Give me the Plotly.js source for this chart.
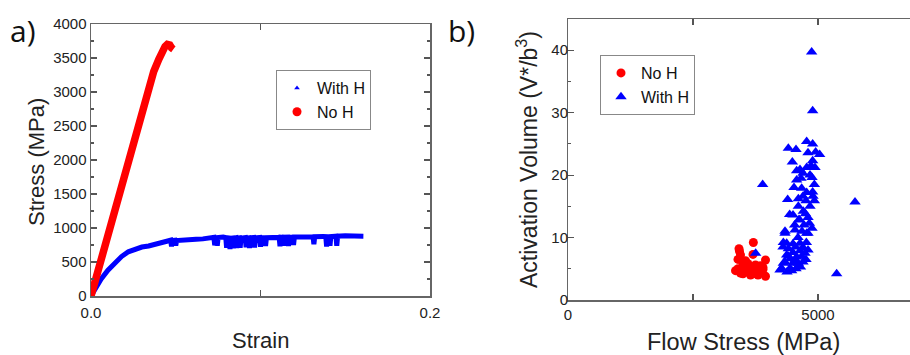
<!DOCTYPE html>
<html><head><meta charset="utf-8">
<script src="https://cdn.plot.ly/plotly-3.0.1.min.js"></script>
<style>html,body{margin:0;padding:0;background:#fff}#chart{width:910px;height:355px}</style>
</head><body><div id="chart"></div>
<script>
// ---- Panel a) stress-strain ----
const noHStrain   = [0, 0.004, 0.008, 0.012, 0.016, 0.020, 0.024, 0.028, 0.032, 0.0358, 0.037, 0.040, 0.042, 0.0437, 0.045, 0.0465, 0.0475, 0.0486];
const noHStress   = [0, 352, 704, 1056, 1408, 1760, 2110, 2460, 2810, 3225, 3300, 3480, 3600, 3670, 3700, 3690, 3650, 3630];
const withHStrain = [0, 0.003, 0.006, 0.010, 0.014, 0.018, 0.022, 0.026, 0.030, 0.034, 0.038, 0.042, 0.046, 0.0470, 0.0475, 0.0480, 0.0495, 0.0500, 0.0505, 0.054, 0.058, 0.062, 0.066, 0.070, 0.0725, 0.0730, 0.0735, 0.0740, 0.0745, 0.0750, 0.078, 0.0795, 0.0800, 0.0805, 0.0815, 0.0820, 0.0825, 0.0835, 0.0840, 0.0845, 0.0855, 0.0860, 0.0865, 0.0875, 0.0880, 0.0885, 0.0910, 0.0915, 0.0920, 0.0930, 0.0935, 0.0940, 0.0960, 0.0965, 0.0970, 0.0995, 0.1000, 0.1005, 0.1025, 0.1030, 0.1035, 0.108, 0.1110, 0.1115, 0.1120, 0.1130, 0.1135, 0.1140, 0.1160, 0.1165, 0.1170, 0.1190, 0.1195, 0.1200, 0.128, 0.1310, 0.1315, 0.1320, 0.137, 0.1385, 0.1390, 0.1395, 0.1405, 0.1410, 0.1415, 0.1445, 0.1450, 0.1455, 0.150, 0.155, 0.158, 0.1607];
const withHStress = [0, 130, 250, 380, 490, 580, 650, 695, 720, 735, 760, 790, 815, 820, 730, 815, 820, 740, 815, 825, 820, 835, 840, 855, 862, 745, 858, 865, 740, 860, 868, 860, 710, 855, 852, 690, 850, 852, 700, 850, 855, 705, 852, 856, 710, 850, 858, 715, 852, 856, 705, 855, 860, 712, 855, 860, 725, 858, 858, 735, 856, 866, 862, 730, 864, 862, 740, 864, 866, 735, 866, 868, 750, 868, 872, 872, 760, 872, 876, 874, 728, 872, 872, 740, 874, 880, 738, 880, 885, 886, 890, 880];
const aXTickVals = [0, 0.1, 0.2];
const aXTickText = ['0.0', '', '0.2'];

// ---- Panel b) activation volume ----
const noHFlow = [3707, 3420, 3430, 3450, 3700, 3400, 3500, 3350, 3400, 3450, 3500, 3550, 3600, 3650, 3700, 3750, 3800, 3850, 3900, 3950, 3950, 3900, 3600, 3550, 3750, 3650, 3500, 3800, 3850];
const noHVol  = [9.2, 8.2, 7.8, 7.2, 7.3, 6.5, 6.0, 4.7, 5.0, 4.3, 5.5, 4.8, 4.5, 5.2, 4.2, 4.6, 5.0, 4.4, 5.2, 6.4, 3.8, 4.9, 5.8, 6.3, 5.6, 4.0, 4.2, 4.0, 5.5];
const withHFlow = [4873, 4893, 4773, 4893, 4407, 4560, 4800, 4953, 5033, 4487, 4893, 4860, 4640, 4773, 4940, 4573, 4840, 4700, 3893, 4573, 4927, 4673, 4773, 4893, 4393, 4607, 4760, 4927, 5740, 4607, 4840, 4707, 4433, 4620, 4800, 4533, 4720, 4500, 4633, 4827, 4340, 4540, 4800, 4340, 4773, 4600, 4307, 4500, 4767, 4373, 4640, 4407, 4640, 4550, 4700, 3753, 4373, 4573, 4740, 4407, 4673, 4500, 4340, 4500, 4700, 4540, 4607, 4307, 4273, 4440, 4607, 4240, 4473, 4380, 4560, 4650, 4760, 4800, 4450, 4300, 5373, 4660, 4880, 4520, 4900, 4700, 4750, 4680, 4880];
const withHVol  = [39.7, 30.3, 25.4, 25.0, 24.3, 24.1, 23.6, 23.7, 23.3, 22.1, 22.3, 21.5, 20.9, 21.2, 21.2, 20.7, 20.0, 20.3, 18.5, 19.2, 18.5, 17.9, 17.2, 17.3, 16.1, 16.2, 15.9, 15.9, 15.7, 15.0, 15.0, 14.2, 13.7, 12.9, 13.2, 12.0, 12.0, 13.6, 12.8, 12.3, 11.0, 11.2, 10.7, 10.7, 10.7, 10.0, 9.2, 9.0, 9.2, 9.1, 9.1, 8.2, 7.9, 8.5, 8.4, 7.5, 7.2, 6.9, 7.5, 7.0, 7.0, 7.6, 6.1, 5.9, 6.1, 6.4, 5.9, 5.9, 5.1, 5.1, 5.4, 4.8, 4.7, 4.5, 5.0, 5.3, 6.5, 8.0, 6.6, 8.5, 4.2, 19.5, 19.6, 18.0, 16.6, 16.6, 13.8, 11.0, 11.5];
const bXTickVals = [0, 2500, 5000];
const bXTickText = ['0', '', '5000'];

const RED = '#ff0000', BLUE = '#0000ff';
const W = 910, H = 355;
const px = v => v / W, py = v => 1 - v / H;
const FONT = 'Liberation Sans, Arial, sans-serif';

const traces = [
  {x: withHStrain, y: withHStress, mode: 'lines', line: {color: BLUE, width: 5}, showlegend: false, xaxis: 'x', yaxis: 'y', hoverinfo: 'skip'},
  {x: noHStrain, y: noHStress, mode: 'lines', line: {color: RED, width: 7.5}, showlegend: false, xaxis: 'x', yaxis: 'y', hoverinfo: 'skip'},
  {x: [null], y: [null], mode: 'markers', name: 'With H', marker: {symbol: 'triangle-up', size: 5, color: BLUE}, legend: 'legend', xaxis: 'x', yaxis: 'y'},
  {x: [null], y: [null], mode: 'markers', name: 'No H', marker: {symbol: 'circle', size: 9, color: RED}, legend: 'legend', xaxis: 'x', yaxis: 'y'},
  {x: noHFlow, y: noHVol, mode: 'markers', name: 'No H', marker: {symbol: 'circle', size: 9, color: RED}, legend: 'legend2', xaxis: 'x2', yaxis: 'y2'},
  {x: withHFlow, y: withHVol, mode: 'markers', name: 'With H', marker: {symbol: 'triangle-up', size: 10, color: BLUE}, legend: 'legend2', xaxis: 'x2', yaxis: 'y2'},
  // empty carrier so the tick-label axis (y3) is drawn
  {x: [null], y: [null], mode: 'markers', showlegend: false, xaxis: 'x2', yaxis: 'y3', hoverinfo: 'skip'}
];

const axBase = {
  showgrid: false, zeroline: false, showline: true, linecolor: '#666', linewidth: 1.5,
  ticks: 'inside', ticklen: 6, tickwidth: 1.2, tickcolor: '#555',
  tickfont: {family: FONT, size: 15, color: '#222'}, fixedrange: true
};

const layout = {
  width: W, height: H,
  margin: {l: 0, r: 0, t: 0, b: 0},
  paper_bgcolor: '#fff', plot_bgcolor: '#fff',
  xaxis: Object.assign({}, axBase, {domain: [px(91), px(430)], range: [0, 0.2], tickmode: 'array', tickvals: aXTickVals, ticktext: aXTickText, mirror: 'ticks', anchor: 'y', ticklabelstandoff: 2}),
  yaxis: Object.assign({}, axBase, {domain: [py(296), py(24)], range: [0, 4000], dtick: 500, mirror: 'ticks', anchor: 'x',
    minor: {dtick: 250, ticks: 'inside', ticklen: 3, tickcolor: '#555'}}),
  xaxis2: Object.assign({}, axBase, {domain: [px(568), 1], range: [0, 6840], tickmode: 'array', tickvals: bXTickVals, ticktext: bXTickText, mirror: 'ticks', anchor: 'y2'}),
  yaxis2: Object.assign({}, axBase, {domain: [py(300), py(19)], range: [0, 45], dtick: 10, mirror: false, anchor: 'x2', showticklabels: false,
    minor: {dtick: 5, ticks: 'inside', ticklen: 3, tickcolor: '#555'}}),
  yaxis3: {overlaying: 'y2', anchor: 'free', position: px(568), side: 'left', range: [0, 45], dtick: 10,
    showline: false, ticks: '', showgrid: false, zeroline: false, fixedrange: true,
    tickfont: {family: FONT, size: 15, color: '#222'}},
  legend: {x: px(276), y: py(70), xanchor: 'left', yanchor: 'top', bgcolor: '#fff', bordercolor: '#888', borderwidth: 1,
    font: {family: FONT, size: 16, color: '#111'}, itemclick: false, tracegroupgap: 0},
  legend2: {x: px(600), y: py(55), xanchor: 'left', yanchor: 'top', bgcolor: '#fff', bordercolor: '#888', borderwidth: 1,
    font: {family: FONT, size: 16, color: '#111'}, itemclick: false},
  annotations: [
    {text: 'a)', x: px(8), y: py(31), xref: 'paper', yref: 'paper', xanchor: 'left', yanchor: 'middle', showarrow: false, font: {family: 'Open Sans, sans-serif', size: 30, color: '#111'}},
    {text: 'b)', x: px(446), y: py(31), xref: 'paper', yref: 'paper', xanchor: 'left', yanchor: 'middle', showarrow: false, font: {family: 'Open Sans, sans-serif', size: 30, color: '#111'}},
    {text: 'Strain', x: px(260), y: py(340), xref: 'paper', yref: 'paper', xanchor: 'center', yanchor: 'middle', showarrow: false, font: {family: FONT, size: 22, color: '#222'}},
    {text: 'Stress (MPa)', x: px(36), y: py(162), xref: 'paper', yref: 'paper', xanchor: 'center', yanchor: 'middle', textangle: -90, showarrow: false, font: {family: FONT, size: 22, color: '#222'}},
    {text: 'Flow Stress (MPa)', x: px(743), y: py(342), xref: 'paper', yref: 'paper', xanchor: 'center', yanchor: 'middle', showarrow: false, font: {family: FONT, size: 23.5, color: '#222'}},
    {text: 'Activation Volume (V*/b<sup>3</sup>)', x: px(527), y: py(160), xref: 'paper', yref: 'paper', xanchor: 'center', yanchor: 'middle', textangle: -90, showarrow: false, font: {family: FONT, size: 23, color: '#222'}}
  ]
};

Plotly.newPlot('chart', traces, layout, {displayModeBar: false, staticPlot: true});
</script></body></html>
